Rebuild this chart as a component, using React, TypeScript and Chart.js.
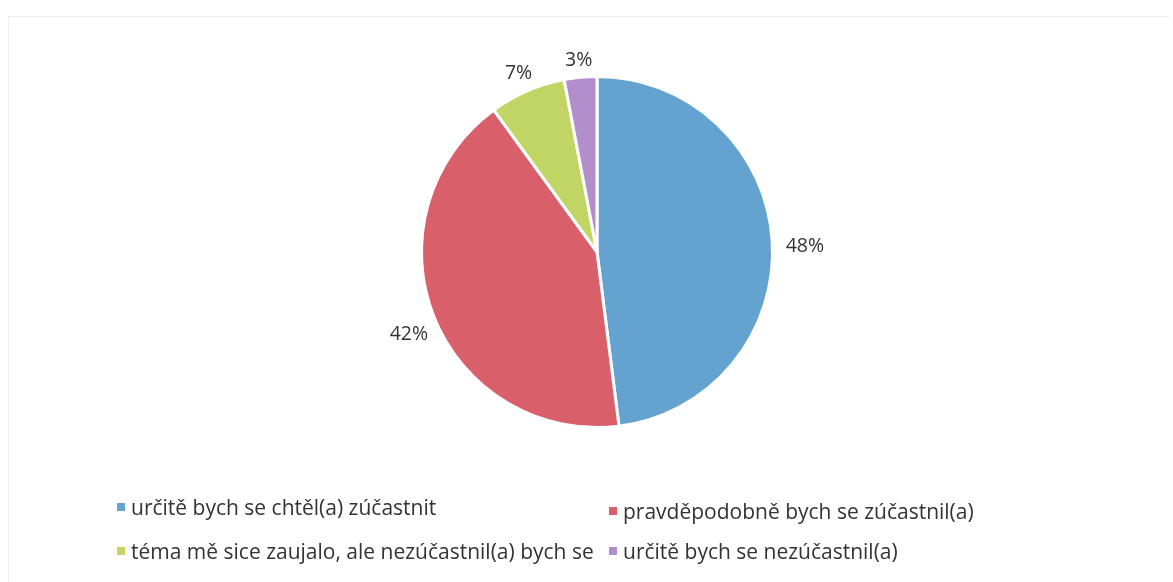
import React, { useEffect, useRef } from "react";
import { Chart, registerables } from "chart.js";
Chart.register(...registerables);

const categories = [
  "určitě bych se chtěl(a) zúčastnit",
  "pravděpodobně bych se zúčastnil(a)",
  "téma mě sice zaujalo, ale nezúčastnil(a) bych se",
  "určitě bych se nezúčastnil(a)",
];
const values = [48, 42, 7, 3];
const colors = ["#64a3cf", "#d95f6a", "#c0d563", "#b28fcc"];

const FONT = "'Open Sans', 'Liberation Sans', sans-serif";

const outsideLabels = {
  id: "outsideLabels",
  afterDatasetsDraw(chart: any) {
    const ctx = chart.ctx;
    const meta = chart.getDatasetMeta(0);
    ctx.save();
    ctx.font = `19.5px ${FONT}`;
    ctx.fillStyle = "#333";
    ctx.textAlign = "center";
    ctx.textBaseline = "middle";
    meta.data.forEach((arc: any, i: number) => {
      const { x, y, startAngle, endAngle, outerRadius } = arc.getProps(
        ["x", "y", "startAngle", "endAngle", "outerRadius"],
        true
      );
      const mid = (startAngle + endAngle) / 2;
      const text = values[i] + "%";
      const hw = ctx.measureText(text).width / 2;
      const hh = 10;
      const c = Math.cos(mid);
      const s = Math.sin(mid);
      const r = outerRadius + 9 + Math.abs(c) * hw + Math.abs(s) * hh;
      const dx = 4 * c * c;
      const dy = 3 + 4 * Math.abs(c);
      ctx.fillText(text, x + c * r + dx, y + s * r + dy);
    });
    ctx.restore();
  },
};

export default function App() {
  const ref = useRef<HTMLCanvasElement>(null);
  useEffect(() => {
    document.body.style.margin = "0";
    const chart = new Chart(ref.current!, {
      type: "pie",
      data: {
        labels: categories,
        datasets: [
          {
            data: values,
            backgroundColor: colors,
            borderColor: "#ffffff",
            borderWidth: 3,
          },
        ],
      },
      options: {
        animation: false,
        responsive: false,
        maintainAspectRatio: false,
        layout: { padding: { top: 75, bottom: 153, left: 420, right: 399 } },
        plugins: { legend: { display: false }, tooltip: { enabled: false } },
      },
      plugins: [outsideLabels],
    });
    return () => chart.destroy();
  }, []);

  const legendItem = (i: number, left: number, top: number) => (
    <div
      key={i}
      style={{
        position: "absolute",
        left,
        top,
        display: "flex",
        alignItems: "center",
        fontFamily: FONT,
        fontSize: 21,
        color: "#333",
        whiteSpace: "nowrap",
      }}
    >
      <span
        style={{
          display: "inline-block",
          width: 8,
          height: 8,
          background: colors[i],
          marginRight: 6,
        }}
      />
      {categories[i]}
    </div>
  );

  return (
    <div style={{ position: "relative", width: 1173, height: 582, background: "#fff", overflow: "hidden" }}>
      <div
        style={{
          position: "absolute",
          left: 8,
          top: 16,
          width: 1160,
          height: 570,
          borderLeft: "1px solid #eee",
          borderTop: "1px solid #eee",
        }}
      />
      <canvas ref={ref} width={1173} height={582} style={{ position: "absolute", left: 0, top: 0 }} />
      {legendItem(0, 117, 493)}
      {legendItem(1, 609, 497)}
      {legendItem(2, 117, 537)}
      {legendItem(3, 609, 537)}
    </div>
  );
}
